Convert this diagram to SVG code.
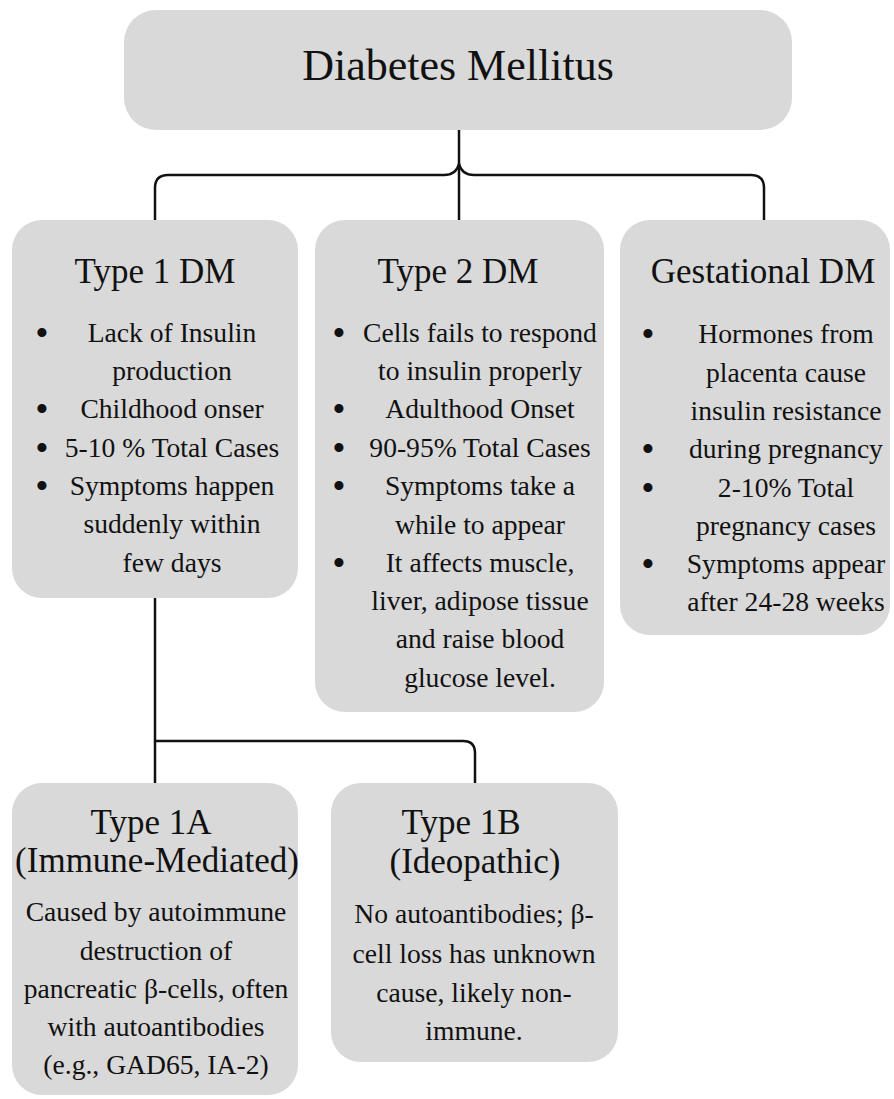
<svg xmlns="http://www.w3.org/2000/svg" width="894" height="1099" viewBox="0 0 894 1099">
<style>
.box{fill:#d9d9d9;}
text{font-family:"Liberation Serif","Times New Roman",serif;fill:#111;text-anchor:middle;}
.t{font-size:35px;}
.h{font-size:44px;}
.b{font-size:27.6px;}
.d{font-size:38px;}
.c{fill:none;stroke:#111;stroke-width:2.5;}
</style>
<rect width="894" height="1099" fill="#ffffff"/>
<g id="connectors">
<path class="c" d="M459,130 V220"/>
<path class="c" d="M155,220 V188 Q155,175 168,175 H444 Q456,175 459,164 Q462,175 474,175 H751 Q764,175 764,188 V220"/>
<path class="c" d="M155,598 V783"/>
<path class="c" d="M155,741 H463 Q475,741 475,753 V783"/>
</g>
<g id="diabetes-mellitus">
<rect class="box" x="124" y="10" width="668" height="120" rx="32"/>
<text class="h" x="458" y="80">Diabetes Mellitus</text>
</g>
<g id="type1">
<rect class="box" x="12" y="220" width="286" height="378" rx="30"/>
<text class="t" x="155" y="283">Type 1 DM</text>
<g class="b">
<text class="d" x="42" y="346">•</text>
<text x="172" y="342">Lack of Insulin</text>
<text x="172" y="380">production</text>
<text class="d" x="42" y="422">•</text>
<text x="172" y="418">Childhood onser</text>
<text class="d" x="42" y="461">•</text>
<text x="172" y="457">5-10 % Total Cases</text>
<text class="d" x="42" y="499">•</text>
<text x="172" y="495">Symptoms happen</text>
<text x="172" y="533">suddenly within</text>
<text x="172" y="572">few days</text>
</g>
</g>
<g id="type2">
<rect class="box" x="315" y="220" width="289" height="492" rx="30"/>
<text class="t" x="458" y="283">Type 2 DM</text>
<g class="b">
<text class="d" x="339" y="346">•</text>
<text x="480" y="342">Cells fails to respond</text>
<text x="480" y="380">to insulin properly</text>
<text class="d" x="339" y="422">•</text>
<text x="480" y="418">Adulthood Onset</text>
<text class="d" x="339" y="461">•</text>
<text x="480" y="457">90-95% Total Cases</text>
<text class="d" x="339" y="499">•</text>
<text x="480" y="495">Symptoms take a</text>
<text x="480" y="534">while to appear</text>
<text class="d" x="339" y="576">•</text>
<text x="480" y="572">It affects muscle,</text>
<text x="480" y="610">liver, adipose tissue</text>
<text x="480" y="648">and raise blood</text>
<text x="480" y="687">glucose level.</text>
</g>
</g>
<g id="gestational">
<rect class="box" x="620" y="220" width="270" height="415" rx="30"/>
<text class="t" x="763" y="283">Gestational DM</text>
<g class="b">
<text class="d" x="648" y="347">•</text>
<text x="786" y="343">Hormones from</text>
<text x="786" y="382">placenta cause</text>
<text x="786" y="420">insulin resistance</text>
<text class="d" x="648" y="462">•</text>
<text x="786" y="458">during pregnancy</text>
<text class="d" x="648" y="501">•</text>
<text x="786" y="497">2-10% Total</text>
<text x="786" y="535">pregnancy cases</text>
<text class="d" x="648" y="577">•</text>
<text x="786" y="573">Symptoms appear</text>
<text x="786" y="611">after 24-28 weeks</text>
</g>
</g>
<g id="type1a">
<rect class="box" x="12" y="783" width="286" height="312" rx="30"/>
<text class="t" x="151" y="834">Type 1A</text>
<text class="t" x="157" y="872">(Immune-Mediated)</text>
<g class="b">
<text x="156" y="921">Caused by autoimmune</text>
<text x="156" y="960">destruction of</text>
<text x="156" y="998">pancreatic β-cells, often</text>
<text x="156" y="1036">with autoantibodies</text>
<text x="156" y="1074">(e.g., GAD65, IA-2)</text>
</g>
</g>
<g id="type1b">
<rect class="box" x="331" y="783" width="287" height="279" rx="30"/>
<text class="t" x="461" y="834">Type 1B</text>
<text class="t" x="475" y="873">(Ideopathic)</text>
<g class="b">
<text x="474" y="923">No autoantibodies; β-</text>
<text x="474" y="963">cell loss has unknown</text>
<text x="474" y="1002">cause, likely non-</text>
<text x="474" y="1040">immune.</text>
</g>
</g>
</svg>
